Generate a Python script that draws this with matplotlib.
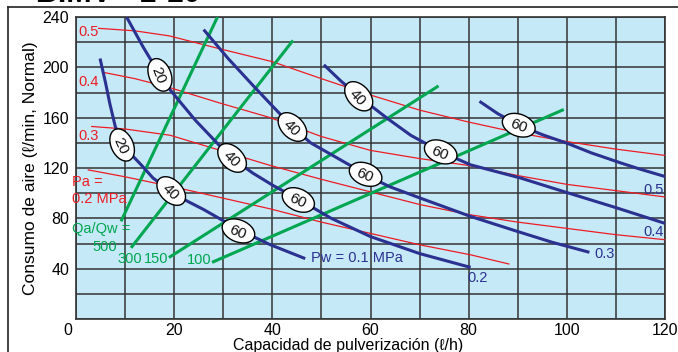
import numpy as np
import matplotlib.pyplot as plt
import matplotlib.transforms as mtransforms
from matplotlib.lines import Line2D
from matplotlib.patches import Ellipse

plt.rcParams['font.family'] = ['Liberation Sans', 'DejaVu Sans']

# Pa curves (red): x, y
pa05_x = [4.6, 12, 19, 29, 40, 50, 60, 70, 80, 90, 100, 110, 120]
pa05_y = [231, 229, 225, 215, 204.5, 191, 178, 166, 156.5, 148, 141, 135, 130]
pa04_x = [5.6, 12, 19, 29.4, 39.6, 50, 60, 70, 80, 90, 100, 110, 120]
pa04_y = [196, 191, 184, 171.5, 160, 145, 134, 127.5, 122, 114, 107, 102, 97]
pa03_x = [3.2, 10, 19.2, 29.4, 39.6, 50, 60, 70, 80, 90, 100, 110, 120]
pa03_y = [153, 151, 146, 134, 122, 111, 101, 91, 83, 77, 72, 67, 63]
pa02_x = [2.5, 10, 21, 30, 39.6, 50, 60, 70, 80.4, 88.2]
pa02_y = [118.5, 113, 104, 96, 87.5, 77, 68, 59, 51, 43.7]

# Pw curves (blue)
pw01_x = [4.9, 6.0, 6.9, 8.0, 9.3, 11.2, 13.4, 15.7, 19.5, 22.5, 26, 31.4, 35, 39.6, 46.7]
pw01_y = [207, 188, 171, 153, 141, 131, 122, 112, 101, 94, 87, 75, 67.5, 59, 48]
pw02_x = [10.3, 13.7, 17.1, 19.2, 24.3, 28.7, 31.4, 36, 40.2, 45.4, 52, 60, 70, 80.4]
pw02_y = [240, 216, 194, 182, 158, 140, 129, 116, 106, 95, 80, 65.5, 52, 41]
pw03_x = [26, 31, 36.2, 39.6, 44, 47.8, 55.9, 59, 64, 70.2, 80.4, 90, 97, 104.6]
pw03_y = [230, 207, 185, 171, 153, 140, 122, 114.5, 105, 96, 81.5, 69.5, 61, 53]
pw04_x = [50.5, 54, 57.6, 63.4, 68.2, 74.3, 80.4, 90.6, 100, 110, 120]
pw04_y = [202, 189, 177, 159.5, 146, 133, 122.5, 112, 100.5, 88.5, 76]
pw05_x = [82.2, 86, 90.3, 95, 100.1, 105, 111, 115, 120.2]
pw05_y = [173, 163, 154, 146.5, 139.6, 132, 124, 119, 113]

# Qa/Qw lines (green)
q500_x, q500_y = [9.3, 28.7], [78.7, 239]
q300_x, q300_y = [11.4, 44.0], [57.5, 220.4]
q150_x, q150_y = [19.2, 73.6], [49.5, 184.6]
q100_x, q100_y = [28.0, 99.1], [45.5, 166]

# oval labels on Pw curves: x, y, text, rotation
oval_x = [9.4, 19.4, 33.1, 17.1, 31.8, 45.3, 44.1, 59.0, 57.6, 74.3, 90.2]
oval_y = [138.3, 101.7, 70, 194, 128, 94.6, 152.6, 115, 177, 132.8, 154]
oval_txt = ['20', '40', '60', '20', '40', '60', '40', '60', '40', '60', '60']
oval_rot = [-65, -45, -22, -68, -45, -25, -45, -22, -48, -22, -20]

red = '#ed1c24'
blue = '#2b3190'
green = '#00a650'

fig = plt.figure(figsize=(6.78, 3.52), dpi=100)
ax = fig.add_axes([76 / 678, 1 - 319 / 352, 589 / 678, 302 / 352])
ax.set_facecolor('#c6e9f8')

for xs, ys in [(pa05_x, pa05_y), (pa04_x, pa04_y), (pa03_x, pa03_y), (pa02_x, pa02_y)]:
    ax.plot(xs, ys, color=red, lw=0.9, zorder=3)
for xs, ys in [(q500_x, q500_y), (q300_x, q300_y), (q150_x, q150_y), (q100_x, q100_y)]:
    ax.plot(xs, ys, color=green, lw=2.2, zorder=4)
for xs, ys in [(pw01_x, pw01_y), (pw02_x, pw02_y), (pw03_x, pw03_y), (pw04_x, pw04_y), (pw05_x, pw05_y)]:
    ax.plot(xs, ys, color=blue, lw=2.2, solid_capstyle='butt', solid_joinstyle='round', zorder=5)

# ovals drawn in pixel units, centred on the data point
for x, y, t, r in zip(oval_x, oval_y, oval_txt, oval_rot):
    tr = mtransforms.IdentityTransform() + mtransforms.ScaledTranslation(x, y, ax.transData)
    ax.add_patch(Ellipse((0, 0), 34, 22, angle=r, transform=tr, fc='white', ec='black',
                         lw=1.0, zorder=6))
    ax.text(x, y, t, rotation=r, rotation_mode='anchor', ha='center', va='center_baseline',
            fontsize=11, color='#111111', zorder=7)

# red labels
ax.text(0.4, 228, '0.5', color=red, fontsize=10.5, va='center')
ax.text(0.4, 188, '0.4', color=red, fontsize=10.5, va='center')
ax.text(0.4, 145.5, '0.3', color=red, fontsize=10.5, va='center')
ax.text(-0.8, 108.5, 'Pa =', color=red, fontsize=10.5, va='center', clip_on=False)
ax.text(-0.8, 95, '0.2 MPa', color=red, fontsize=10.5, va='center', clip_on=False)

# green labels
ax.text(-0.8, 71.5, 'Qa/Qw =', color=green, fontsize=10.5, va='center', clip_on=False)
ax.text(3.3, 57.5, '500', color=green, fontsize=10.5, va='center')
ax.text(8.4, 47.5, '300', color=green, fontsize=10.5, va='center')
ax.text(13.8, 47.5, '150', color=green, fontsize=10.5, va='center')
ax.text(22.6, 46.5, '100', color=green, fontsize=10.5, va='center')

# blue labels
ax.text(47.8, 48.5, 'Pw = 0.1 MPa', color=blue, fontsize=10.5, va='center')
ax.text(81.8, 32.6, '0.2', color=blue, fontsize=10.5, va='center', ha='center')
ax.text(107.6, 51.7, '0.3', color=blue, fontsize=10.5, va='center', ha='center')
ax.text(117.6, 69, '0.4', color=blue, fontsize=10.5, va='center', ha='center')
ax.text(117.6, 102.5, '0.5', color=blue, fontsize=10.5, va='center', ha='center')

ax.set_xlim(0, 120)
ax.set_ylim(0, 240)
ax.set_xticks(np.arange(0, 121, 10))
ax.set_xticklabels([str(v) if v % 20 == 0 else '' for v in range(0, 121, 10)])
ax.set_yticks(np.arange(0, 241, 20))
ax.set_yticklabels([str(v) if v % 40 == 0 and v > 0 else '' for v in range(0, 241, 20)])
ax.tick_params(length=0, labelsize=11.5)
ax.tick_params(axis='x', pad=3)
ax.tick_params(axis='y', pad=5)
ax.grid(True, color='#333333', lw=1.1, zorder=1)
ax.set_axisbelow(True)
for s in ax.spines.values():
    s.set_color('#333333')
    s.set_linewidth(1.2)

# the "0" at the corner sits a little to the left
lab0 = ax.get_xticklabels()[0]
lab0.set_transform(lab0.get_transform() + mtransforms.ScaledTranslation(-8 / 100, 0, fig.dpi_scale_trans))

ax.set_xlabel('Capacidad de pulverización (ℓ/h)', fontsize=11.5)
ax.xaxis.set_label_coords(0.462, -0.063, transform=ax.transAxes)
ax.xaxis.label.set_va('top')
ax.set_ylabel('Consumo de aire (ℓ/min, Normal)', fontsize=12.5, labelpad=3)

# outer frame and clipped title
fig.add_artist(Line2D([8 / 678, 1], [1 - 7 / 352, 1 - 7 / 352], color='#222222', lw=1.2))
fig.add_artist(Line2D([8 / 678, 8 / 678], [0, 1 - 7 / 352], color='#222222', lw=1.2))
fig.text(9 / 678, 1 - 2.5 / 352, '■ BIMV - 1-10', fontsize=22, fontweight='bold',
         va='baseline', ha='left')

fig.savefig('out.png', dpi=100)
